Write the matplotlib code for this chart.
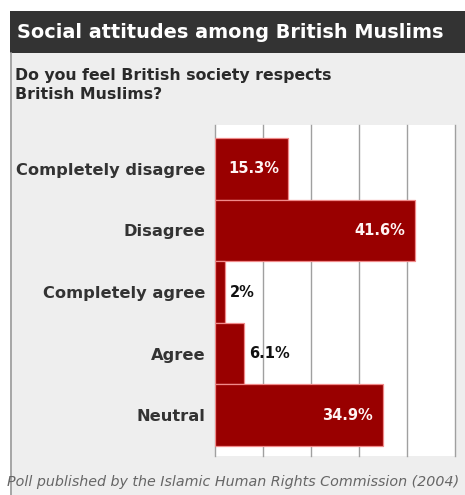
import matplotlib
matplotlib.use('Agg')
import matplotlib.pyplot as plt
from matplotlib.patches import Rectangle
from matplotlib.lines import Line2D

# data
answers = ['Completely disagree', 'Disagree', 'Completely agree', 'Agree', 'Neutral']
percent = [15.3, 41.6, 2.0, 6.1, 34.9]
value_labels = ['15.3%', '41.6%', '2%', '6.1%', '34.9%']

title = 'Social attitudes among British Muslims'
question = 'Do you feel British society respects\nBritish Muslims?'
source = 'Poll published by the Islamic Human Rights Commission (2004)'

W, H = 465, 495
fig = plt.figure(figsize=(W / 100, H / 100), dpi=100)
fig.patch.set_facecolor('white')

def fx(px):
    return px / W

def fy(py):
    return 1 - py / H

# grey panel and dark title bar
fig.patches.append(Rectangle((fx(10), 0), fx(455), fy(53), transform=fig.transFigure,
                             facecolor='#eeeeee', edgecolor='none', zorder=-2))
fig.lines.append(Line2D([fx(10.5), fx(10.5)], [0, fy(53)], transform=fig.transFigure,
                        color='#999999', lw=1.2, zorder=-1))
fig.patches.append(Rectangle((fx(10), fy(53)), fx(455), 42 / H, transform=fig.transFigure,
                             facecolor='#333333', edgecolor='none', zorder=-2))

fig.text(fx(17), fy(32), title, color='white', fontsize=13.9, fontweight='bold',
         family='DejaVu Sans', va='center', ha='left')
fig.text(fx(15), fy(68), question, color='#2a2a2a', fontsize=11.3, fontweight='bold',
         family='DejaVu Sans', va='top', ha='left', linespacing=1.3)
fig.text(fx(7), fy(482), source, color='#666666', fontsize=10.3, style='italic',
         family='DejaVu Sans', va='center', ha='left')

ax = fig.add_axes([fx(215), fy(456), fx(240), 331 / H])
ax.set_facecolor('white')
ypos = list(range(len(answers)))
ax.barh(ypos, percent, height=1.0, color='#990000', edgecolor='#f08a8a', linewidth=0.9, zorder=3)

ax.set_xlim(0, 50)
ax.set_ylim(4.66, -0.71)
ax.set_xticks([0, 10, 20, 30, 40, 50])
ax.set_xticklabels([])
ax.tick_params(axis='x', length=0)
ax.grid(axis='x', color='#a0a0a0', lw=1)
for gl in ax.get_xgridlines():
    gl.set_clip_on(False)
ax.set_axisbelow(True)
for s in ax.spines.values():
    s.set_visible(False)

ax.set_yticks(ypos)
ax.set_yticklabels(answers, fontsize=11.7, fontweight='bold', color='#333333', family='DejaVu Sans')
ax.tick_params(axis='y', length=0, pad=7)

for y, v, lab in zip(ypos, percent, value_labels):
    if v > 10:
        ax.text(v - 2.0, y, lab, color='#fff4f4', fontsize=10.5, fontweight='bold',
                ha='right', va='center', zorder=4)
    else:
        ax.text(v + 1.0, y, lab, color='#111111', fontsize=10.5, fontweight='bold',
                ha='left', va='center', zorder=4)

fig.savefig('out.png', dpi=100)
